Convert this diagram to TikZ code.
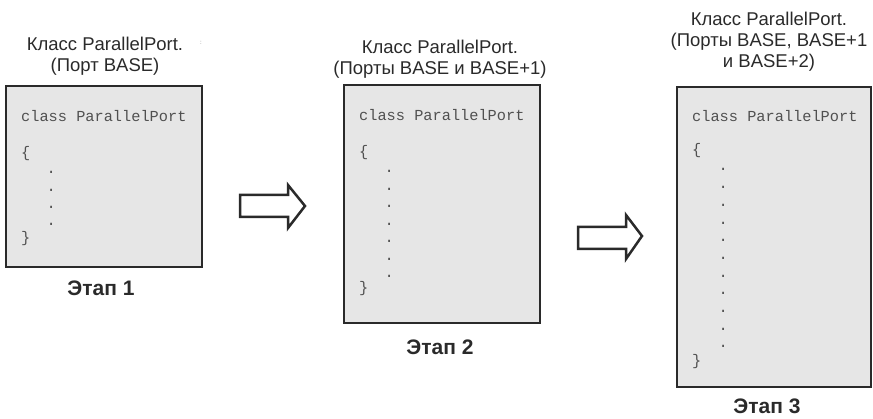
\documentclass[tikz,border=0pt]{standalone}
\usepackage{fontspec}
\setmainfont{Liberation Sans}
\setmonofont{Liberation Mono}
\definecolor{boxfill}{HTML}{E6E6E6}
\definecolor{boxline}{HTML}{2A2A2A}
\definecolor{titlecol}{HTML}{2A2A2A}
\definecolor{codecol}{HTML}{505050}
\tikzset{
  codebox/.style={draw=boxline, line width=2.8pt, fill=boxfill, inner sep=0pt},
  title/.style={font=\fontsize{18.5}{21}\selectfont, text=titlecol, align=center, anchor=north, inner sep=0pt},
  stage/.style={font=\fontsize{21}{24}\selectfont\bfseries, text=titlecol, inner sep=0pt},
  code/.style={font=\ttfamily\fontsize{15.3}{17}\selectfont, text=codecol, anchor=base west, inner sep=0pt},
  blockarrow/.style={draw=boxline, line width=2.5pt, fill=white, miter limit=4}
}
\begin{document}
\begin{tikzpicture}[x=1pt,y=-1pt]
\useasboundingbox (0,0) rectangle (873,419);
% Boxes
\node[codebox, minimum width=196pt, minimum height=181pt] (box1) at (104,176.5) {};
\node[codebox, minimum width=196pt, minimum height=238pt] (box2) at (442,204) {};
\node[codebox, minimum width=194pt, minimum height=300pt] (box3) at (774,237) {};
% Titles
\node[title] (t1) at (105,36.5) {Класс ParallelPort.\\(Порт BASE)};
\node[font=\fontsize{6}{7}\selectfont, text=gray] (t1mark) at (201,43) {:};
\node[title] (t2) at (440,39.5) {Класс ParallelPort.\\(Порты BASE и BASE+1)};
\node[title] (t3) at (769,11.5) {Класс ParallelPort.\\(Порты BASE, BASE+1\\и BASE+2)};
% Stage labels
\node[stage] (s1) at (101,288) {Этап 1};
\node[stage] (s2) at (440,347) {Этап 2};
\node[stage] (s3) at (767,406) {Этап 3};
% Code box 1
\node[code] (c1a) at (21,122) {class ParallelPort};
\node[code] (c1b) at (21,158) {\{};
\foreach \k in {0,...,3} \node[code] (c1d\k) at (46.5,{174+17.3*\k}) {.};
\node[code] (c1c) at (21,243) {\}};
% Code box 2
\node[code] (c2a) at (359,121) {class ParallelPort};
\node[code] (c2b) at (359,157) {\{};
\foreach \k in {0,...,6} \node[code] (c2d\k) at (384.5,{173+17.5*\k}) {.};
\node[code] (c2c) at (359,293) {\}};
% Code box 3
\node[code] (c3a) at (692,122) {class ParallelPort};
\node[code] (c3b) at (692,155) {\{};
\foreach \k in {0,...,10} \node[code] (c3d\k) at (718.5,{171+17.7*\k}) {.};
\node[code] (c3c) at (692,366) {\}};
% Block arrows
\draw[blockarrow] (240,195) -- (288,195) -- (288,185) -- (305,206) -- (288,228) -- (288,217) -- (240,217) -- cycle;
\draw[blockarrow] (578,227) -- (626,227) -- (626,215) -- (642,236) -- (626,259) -- (626,249) -- (578,249) -- cycle;
\end{tikzpicture}
\end{document}
